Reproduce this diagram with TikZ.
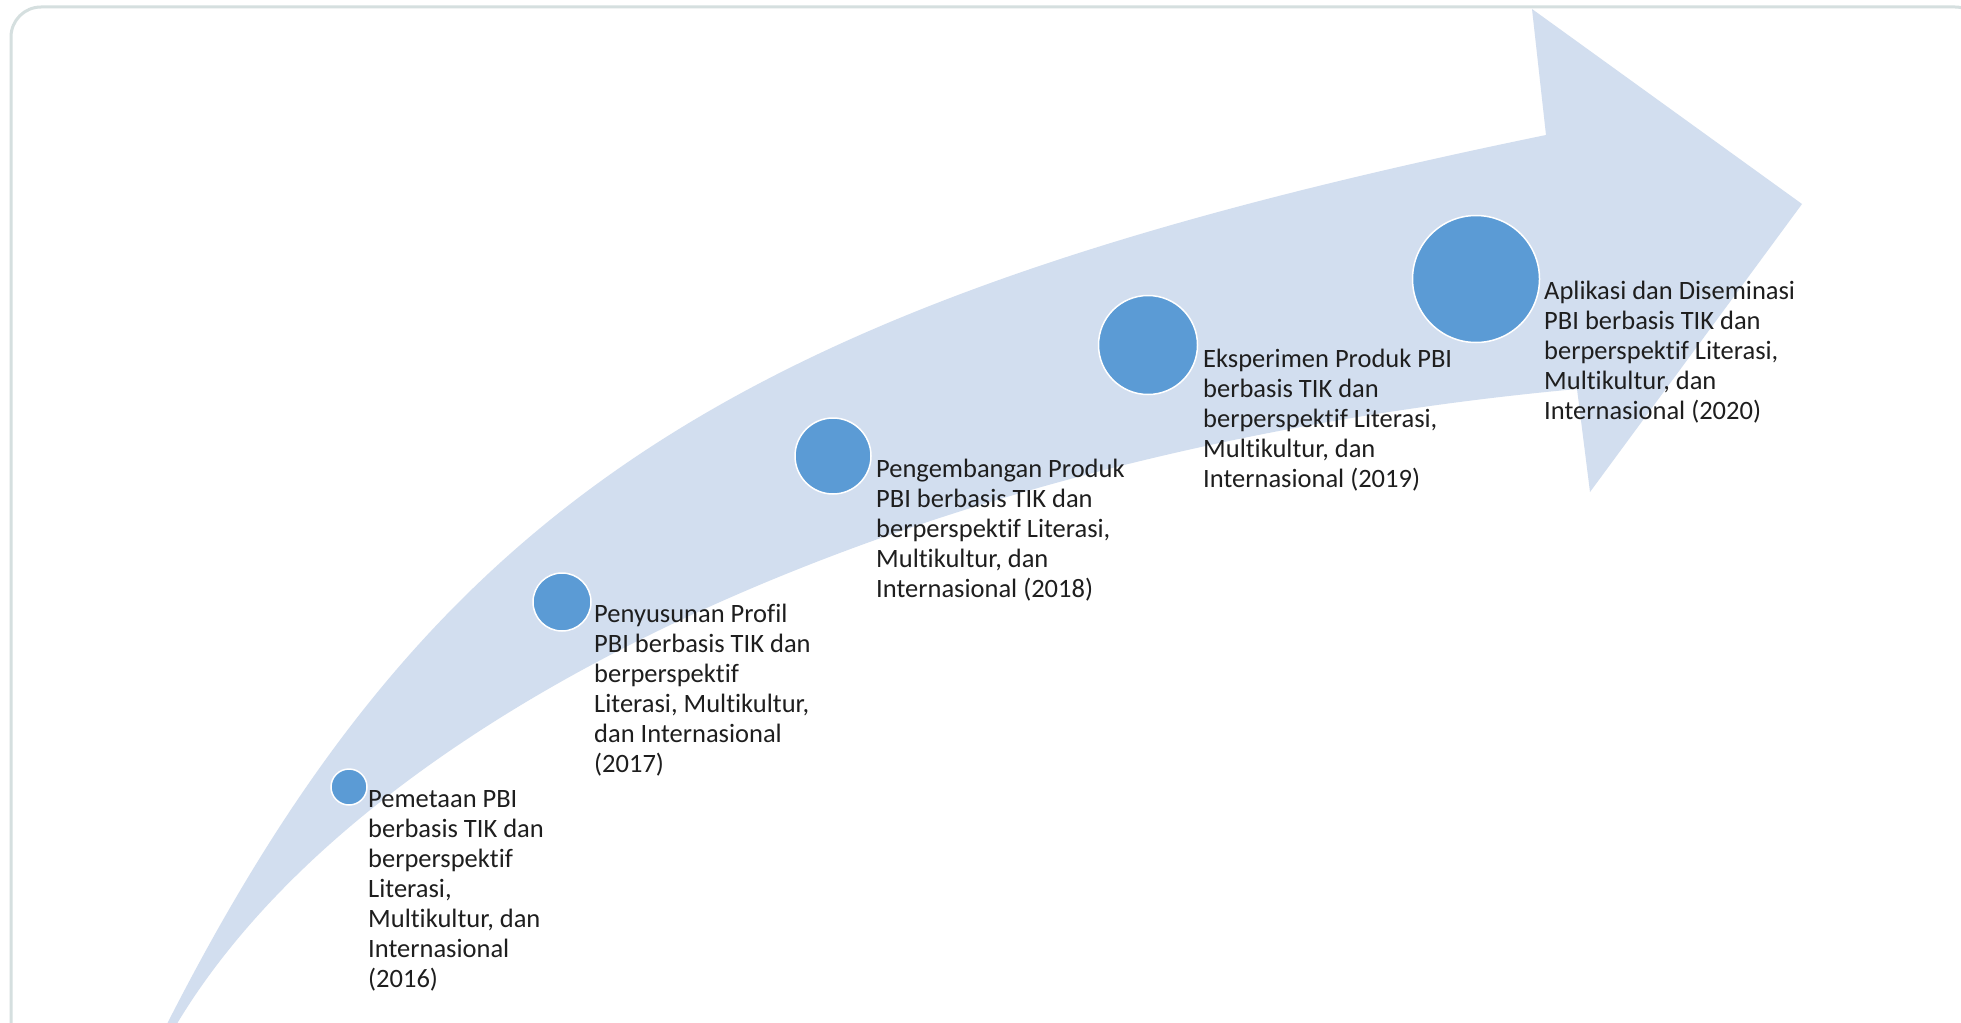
\documentclass[tikz,border=0pt]{standalone}
\usepackage{fontspec}
\setmainfont{Carlito}[RawFeature={-liga;-clig;-dlig}]
\definecolor{arrowfill}{HTML}{D2DEEF}
\definecolor{dotblue}{HTML}{5B9BD5}
\definecolor{frame}{HTML}{D5DFDF}
\definecolor{txt}{HTML}{1E1E1E}
\newcommand\steplines[1]{\vtop{\baselineskip=30pt\lineskiplimit=-10pt\relax #1}}
\begin{document}
\begin{tikzpicture}[x=1pt,y=-1pt,
  dot/.style={circle, fill=dotblue, draw=white, line width=1.5pt, inner sep=0pt},
  label/.style={anchor=base west, inner sep=0pt, text=txt, font=\fontsize{26.5}{30}\selectfont}]
\useasboundingbox (0,0) rectangle (1961,1022);
\clip (0,0) rectangle (1961,1022);
\fill[white] (0,0) rectangle (1961,1022);
% frame
\draw[frame, line width=3pt, rounded corners=30pt] (11,7) rectangle (1985,1060);
% curved arrow
\fill[arrowfill] (160,1040) -- (168,1022)
  .. controls (437,495) and (744,300) .. (1546,135)
  -- (1532,9) -- (1802,204) -- (1590,492) -- (1577,389)
  .. controls (933,448) and (373,700) .. (178,1022) -- (170,1040) -- cycle;
% dots
\node[dot, minimum size=36pt] (c1) at (349,787) {};
\node[dot, minimum size=58pt] (c2) at (562,602) {};
\node[dot, minimum size=76pt] (c3) at (833,456) {};
\node[dot, minimum size=99pt] (c4) at (1148,345) {};
\node[dot, minimum size=127pt] (c5) at (1476,279) {};
% labels
\node[label] (t1) at (368,807) {\steplines{\hbox{Pemetaan PBI}\hbox{berbasis TIK dan}\hbox{berperspektif}\hbox{Literasi,}\hbox{Multikultur, dan}\hbox{Internasional}\hbox{(2016)}}};
\node[label] (t2) at (594,622) {\steplines{\hbox{Penyusunan Profil}\hbox{PBI berbasis TIK dan}\hbox{berperspektif}\hbox{Literasi, Multikultur,}\hbox{dan Internasional}\hbox{(2017)}}};
\node[label] (t3) at (876,477) {\steplines{\hbox{Pengembangan Produk}\hbox{PBI berbasis TIK dan}\hbox{berperspektif Literasi,}\hbox{Multikultur, dan}\hbox{Internasional (2018)}}};
\node[label] (t4) at (1203,367) {\steplines{\hbox{Eksperimen Produk PBI}\hbox{berbasis TIK dan}\hbox{berperspektif Literasi,}\hbox{Multikultur, dan}\hbox{Internasional (2019)}}};
\node[label] (t5) at (1544,299) {\steplines{\hbox{Aplikasi dan Diseminasi}\hbox{PBI berbasis TIK dan}\hbox{berperspektif Literasi,}\hbox{Multikultur, dan}\hbox{Internasional (2020)}}};
\end{tikzpicture}
\end{document}
